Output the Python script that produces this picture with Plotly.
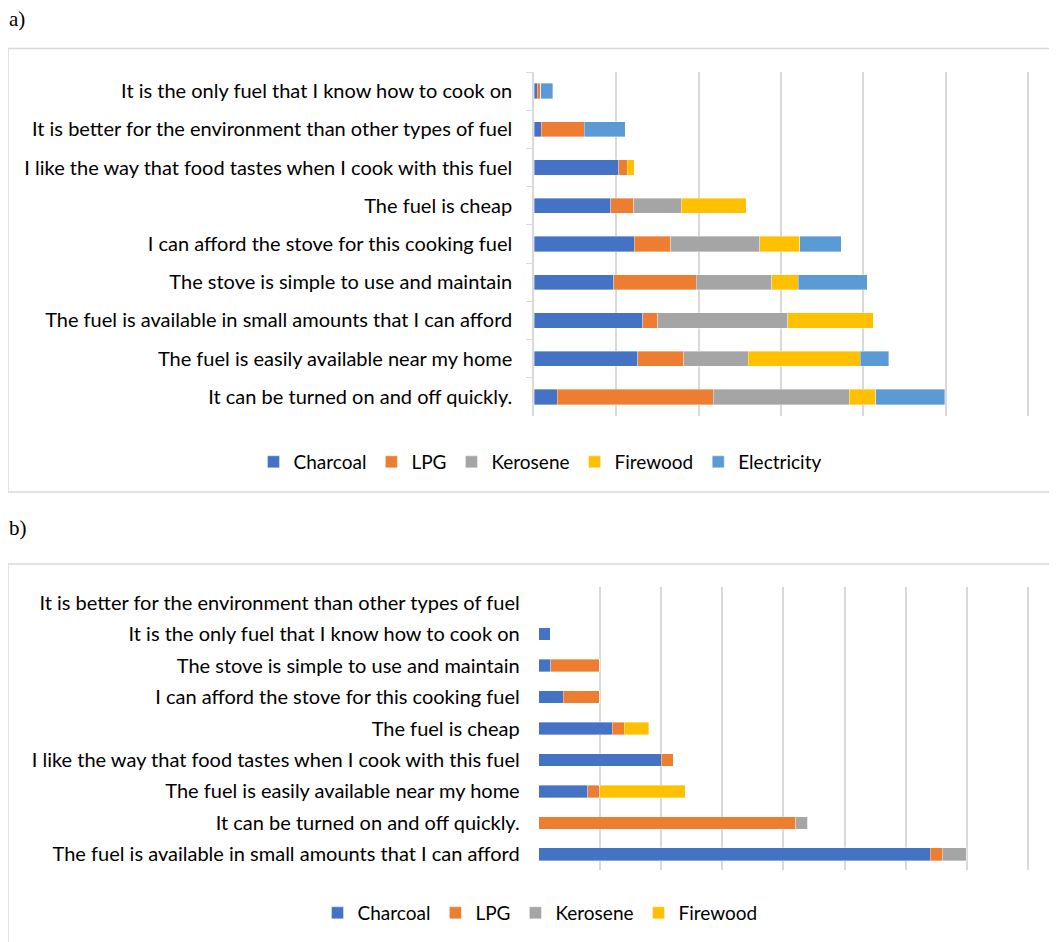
import plotly.graph_objects as go

# The page body has an 8px margin; size the figure so it fills the window exactly.
OFF = 8
W, H = 1057 - OFF, 942 - OFF

fuels_a = ["Charcoal", "LPG", "Kerosene", "Firewood", "Electricity"]
fuels_b = ["Charcoal", "LPG", "Kerosene", "Firewood"]
colors = {"Charcoal": "#4472C4", "LPG": "#ED7D31", "Kerosene": "#A5A5A5",
          "Firewood": "#FFC000", "Electricity": "#5B9BD5"}

# Panel a categories (top to bottom)
cats_a = [
    "It is the only fuel that I know how to cook on",
    "It is better for the environment than other types of fuel",
    "I like the way that food tastes when I cook with this fuel",
    "The fuel is cheap",
    "I can afford the stove for this cooking fuel",
    "The stove is simple to use and maintain",
    "The fuel is available in small amounts that I can afford",
    "The fuel is easily available near my home",
    "It can be turned on and off quickly.",
]
charcoal_a    = [0.4, 0.9, 10.3, 9.3, 12.2, 9.7, 13.2, 12.6, 2.8]
lpg_a         = [0.4, 5.2, 1.0, 2.8, 4.4, 10.0, 1.8, 5.6, 19.0]
kerosene_a    = [0, 0, 0, 5.8, 10.8, 9.2, 15.8, 7.8, 16.5]
firewood_a    = [0, 0, 0.85, 7.9, 4.9, 3.2, 10.4, 13.6, 3.2]
electricity_a = [1.5, 5.0, 0, 0, 5.0, 8.4, 0, 3.5, 8.4]

# Panel b categories (top to bottom)
cats_b = [
    "It is better for the environment than other types of fuel",
    "It is the only fuel that I know how to cook on",
    "The stove is simple to use and maintain",
    "I can afford the stove for this cooking fuel",
    "The fuel is cheap",
    "I like the way that food tastes when I cook with this fuel",
    "The fuel is easily available near my home",
    "It can be turned on and off quickly.",
    "The fuel is available in small amounts that I can afford",
]
charcoal_b = [0, 2, 2, 4, 12, 20, 8, 0, 64]
lpg_b      = [0, 0, 8, 6, 2, 2, 2, 42, 2]
kerosene_b = [0, 0, 0, 0, 0, 0, 0, 2, 4]
firewood_b = [0, 0, 0, 0, 4, 0, 14, 0, 0]

data_a = {"Charcoal": charcoal_a, "LPG": lpg_a, "Kerosene": kerosene_a,
          "Firewood": firewood_a, "Electricity": electricity_a}
data_b = {"Charcoal": charcoal_b, "LPG": lpg_b, "Kerosene": kerosene_b,
          "Firewood": firewood_b}

FONT = "Lato"
FS = 20
fig = go.Figure()

for f in fuels_a:
    fig.add_trace(go.Bar(
        y=cats_a, x=data_a[f], name=f, orientation="h",
        marker=dict(color=colors[f], line=dict(color="rgba(255,255,255,0.6)", width=0.6)),
        xaxis="x", yaxis="y", legend="legend", width=0.4))

for f in fuels_b:
    fig.add_trace(go.Bar(
        y=cats_b, x=data_b[f], name=f, orientation="h",
        marker=dict(color=colors[f], line=dict(color="rgba(255,255,255,0.6)", width=0.6)),
        xaxis="x2", yaxis="y2", legend="legend2", width=0.4))

def px(x):
    return (x - OFF) / W

def py(y):
    return 1 - (y - OFF) / H

# axis extents: range slightly past the last gridline so that gridline is drawn
A_LEFT, A_GRID_END, A_MAX = 534.0, 1028.0, 60
B_LEFT, B_GRID_END, B_MAX = 538.7, 1028.0, 80
PAD = 0.3
a_ppu = (A_GRID_END - A_LEFT) / A_MAX
b_ppu = (B_GRID_END - B_LEFT) / B_MAX

grid = "#D9D9D9"
fig.update_layout(
    width=W, height=H,
    margin=dict(l=0, r=0, t=0, b=0),
    paper_bgcolor="white", plot_bgcolor="white",
    barmode="stack",
    font=dict(family=FONT, size=FS, color="#000000"),
    xaxis=dict(domain=[px(A_LEFT), px(A_GRID_END + PAD * a_ppu)], range=[0, A_MAX + PAD],
               tick0=0, dtick=10,
               showticklabels=False, showgrid=True, gridcolor=grid, gridwidth=1.5,
               zeroline=False, anchor="y", fixedrange=True),
    yaxis=dict(domain=[py(416), py(72)], autorange="reversed", anchor="x",
               type="category", tickson="boundaries", ticks="outside", ticklen=6,
               tickcolor=grid, showline=True, linecolor=grid, linewidth=1.5,
               showgrid=False, ticklabelstandoff=16,
               tickfont=dict(family=FONT, size=FS, color="#000")),
    xaxis2=dict(domain=[px(B_LEFT), px(B_GRID_END + PAD * b_ppu)], range=[0, B_MAX + PAD],
                tick0=0, dtick=10,
                showticklabels=False, showgrid=True, gridcolor=grid, gridwidth=1.5,
                zeroline=False, anchor="y2", fixedrange=True),
    yaxis2=dict(domain=[py(870), py(587)], autorange="reversed", anchor="x2",
                type="category", ticks="", showline=False, showgrid=False,
                ticklabelstandoff=18,
                tickfont=dict(family=FONT, size=FS, color="#000")),
    legend=dict(orientation="h", x=px(540), xanchor="center", y=py(462), yanchor="middle",
                font=dict(family=FONT, size=19), traceorder="normal",
                itemwidth=30, bgcolor="rgba(0,0,0,0)"),
    legend2=dict(orientation="h", x=px(540), xanchor="center", y=py(913), yanchor="middle",
                 font=dict(family=FONT, size=19), traceorder="normal",
                 itemwidth=30, bgcolor="rgba(0,0,0,0)"),
    shapes=[
        dict(type="rect", xref="paper", yref="paper", x0=px(8), x1=px(1070),
             y0=py(492), y1=py(48.5), line=dict(color="#D9D9D9", width=1.5)),
        dict(type="rect", xref="paper", yref="paper", x0=px(8), x1=px(1070),
             y0=py(960), y1=py(564), line=dict(color="#D9D9D9", width=1.5)),
    ],
    annotations=[
        dict(text="a)", xref="paper", yref="paper", x=px(7), y=py(19), xanchor="left",
             yanchor="middle", showarrow=False,
             font=dict(family="Liberation Serif", size=21, color="#000")),
        dict(text="b)", xref="paper", yref="paper", x=px(7), y=py(528), xanchor="left",
             yanchor="middle", showarrow=False,
             font=dict(family="Liberation Serif", size=21, color="#000")),
    ],
)

fig.write_html("out.html")
